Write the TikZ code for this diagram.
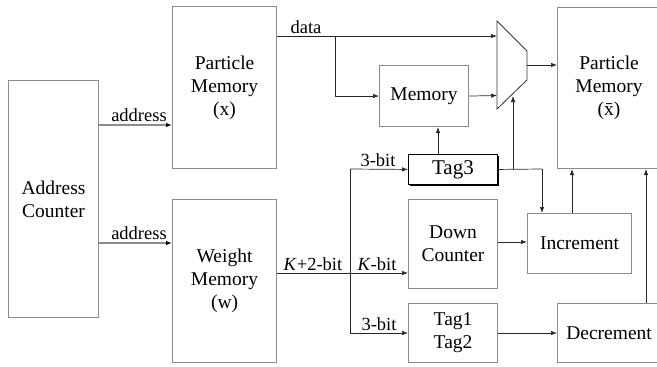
\documentclass[tikz,border=0pt]{standalone}
\usepackage{fontspec}
\setmainfont{Liberation Serif}
\usetikzlibrary{arrows.meta,shadows}
\begin{document}
\begin{tikzpicture}[x=1pt,y=-1pt,
  box/.style={draw=black!45, line width=1.1pt, fill=white, align=center, inner sep=0pt,
    font=\fontsize{19.5}{23}\selectfont, anchor=north west},
  wire/.style={draw=black!85, line width=0.7pt},
  arr/.style={wire, -{Latex[length=6pt,width=4.5pt]}},
  graywire/.style={draw=black!45, line width=1.1pt, -{Latex[length=6pt,width=4.5pt,black]}},
  lab/.style={font=\fontsize{18.5}{20}\selectfont, inner sep=0pt, anchor=base}]
\useasboundingbox (0,0) rectangle (657,367);

\node[box, minimum width=90pt, minimum height=237pt] (ac) at (8,80) {Address\\Counter};
\node[box, minimum width=104pt, minimum height=162pt] (pmx) at (172,6) {Particle\\Memory\\(x)};
\node[box, minimum width=104pt, minimum height=163pt] (wm) at (172,199) {Weight\\Memory\\(w)};
\node[box, minimum width=89pt, minimum height=61pt] (mem) at (379,65) {Memory};
\node[box, minimum width=103pt, minimum height=161pt] (pmxb) at (557,7) {Particle\\Memory\\(\=x)};
\node[box, draw=black, line width=0.9pt, minimum width=89pt, minimum height=30pt,
  font=\fontsize{21}{24}\selectfont,
  drop shadow={shadow xshift=1.3pt, shadow yshift=-1.3pt, fill=black, opacity=1}] (tag3) at (408,154) {Tag3};
\node[box, minimum width=89pt, minimum height=89pt] (dc) at (408,199) {Down\\Counter};
\node[box, minimum width=89pt, minimum height=59pt] (t12) at (408,303) {Tag1\\Tag2};
\node[box, minimum width=104pt, minimum height=60pt] (inc) at (527,213) {Increment};
\node[box, minimum width=103pt, minimum height=59pt] (dec) at (557,303) {Decrement};

% multiplexer
\coordinate (mA) at (497,21);
\coordinate (mB) at (527,51);
\coordinate (mC) at (527,80);
\coordinate (mD) at (497,109);
\draw[draw=black!80, line width=0.8pt] (mA) -- (mB) -- (mC) -- (mD) -- cycle;
\coordinate (muxin1) at (497,36);
\coordinate (muxin2) at (497,95.5);
\coordinate (muxout) at (527,65);
\coordinate (muxsel) at (512,96);

% address lines
\draw[graywire] (ac.east |- 0,125) -- (pmx.west |- 0,125);
\node[lab] (la1) at (139,121) {address};
\draw[graywire] (ac.east |- 0,243) -- (wm.west |- 0,243);
\node[lab] (la2) at (139,239) {address};

% data
\draw[wire] (pmx.east |- muxin1) -- (335,36);
\draw[arr] (335,36) -- (muxin1);
\draw[arr] (335,36) |- (mem.west);
\node[lab] (ldata) at (306,33) {data};
\draw[arr] (mem.east) -- (muxin2);
\draw[arr] (muxout) -- (pmxb.west |- muxout);

% tag3
\draw[arr] (tag3.north -| 438,0) -- (mem.south -| 438,0);
\draw[wire] (tag3.east) -- (542,169);
\draw[arr] (542,169) -- (inc.north -| 542,0);
\draw[arr] (513,169) -- (muxsel -| 513,0);

% weight bus
\draw[wire] (wm.east |- 0,273) -- (350,273);
\draw[arr] (350,273) -- (dc.west |- 0,273);
\draw[wire] (350,169) -- (350,333);
\draw[arr] (350,169) -- (tag3.west);
\draw[arr] (350,333) -- (t12.west |- 0,333);
\node[lab] (lk2) at (313,270) {\textit{K}+2-bit};
\node[lab] (lk) at (377,270) {\textit{K}-bit};
\node[lab] (l3a) at (378,166) {3-bit};
\node[lab] (l3b) at (379,330) {3-bit};

% counters
\draw[arr] (dc.east |- 0,242) -- (inc.west |- 0,242);
\draw[arr] (t12.east |- 0,333) -- (dec.west |- 0,333);
\draw[arr] (inc.north -| 572,0) -- (pmxb.south -| 572,0);
\draw[arr] (dec.north -| 646,0) -- (pmxb.south -| 646,0);
\end{tikzpicture}
\end{document}
